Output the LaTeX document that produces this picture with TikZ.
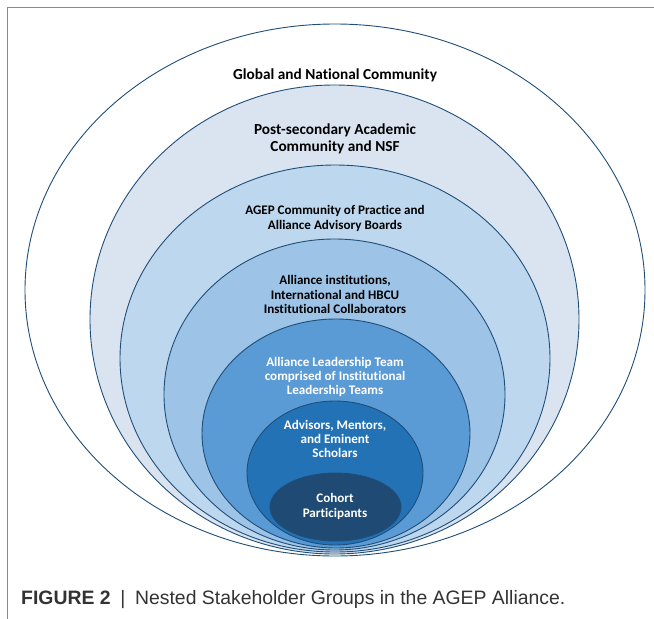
\documentclass[tikz,border=0pt]{standalone}
\usepackage{fontspec}
\setmainfont[Ligatures={NoCommon}]{Carlito}
\newfontfamily\capfont{Liberation Sans}
\definecolor{ringline}{HTML}{1F4E79}
\definecolor{fillA}{HTML}{DAE4F1}
\definecolor{fillB}{HTML}{BDD7EE}
\definecolor{fillC}{HTML}{9DC3E6}
\definecolor{fillD}{HTML}{5B9BD5}
\definecolor{fillE}{HTML}{2472B6}
\definecolor{fillF}{HTML}{1F4A73}
\definecolor{framegray}{HTML}{8A8A8A}
\definecolor{capgray}{HTML}{333333}
\begin{document}
\begin{tikzpicture}[x=1pt,y=-1pt,
  ring/.style={draw=ringline, line width=0.9pt},
  lbl/.style={font=\bfseries\fontsize{13.1}{14.4}\selectfont, align=center, inner sep=0pt},
  biglbl/.style={font=\bfseries\fontsize{15.3}{16.8}\selectfont, align=center, inner sep=0pt}]
\useasboundingbox (0,0) rectangle (654,619);
\fill[white] (0,0) rectangle (654,619);
\draw[framegray, line width=1pt] (7.5,619) -- (7.5,7.5) -- (654,7.5);
% nested ellipses
\path[ring, fill=white] (335,290) ellipse [x radius=310pt, y radius=266pt];
\path[ring, fill=fillA] (334.5,319.5) ellipse [x radius=244.5pt, y radius=234.5pt];
\path[ring, fill=fillB] (335,358.5) ellipse [x radius=215pt, y radius=193.5pt];
\path[ring, fill=fillC] (334.5,394.5) ellipse [x radius=170.5pt, y radius=155.5pt];
\path[ring, fill=fillD] (336,433.5) ellipse [x radius=134pt, y radius=114.5pt];
\path[ring, fill=fillE] (335,473) ellipse [x radius=88pt, y radius=72pt];
\path[ring, fill=fillF] (335.5,507) ellipse [x radius=65.5pt, y radius=34pt];
% labels
\node[biglbl] (global) at (335,75) {Global and National Community};
\node[biglbl] (post) at (335,138.5) {Post-secondary Academic\\Community and NSF};
\node[lbl] (agep) at (335,218.5) {AGEP Community of Practice and\\Alliance Advisory Boards};
\node[lbl] (inst) at (335,294.5) {Alliance institutions,\\International and HBCU\\Institutional Collaborators};
\node[lbl, text=white] (alt) at (335,377) {Alliance Leadership Team\\comprised of Institutional\\Leadership Teams};
\node[lbl, text=white] (adv) at (335,439) {Advisors, Mentors,\\and Eminent\\Scholars};
\node[lbl, text=white] (cohort) at (335,506.5) {Cohort\\Participants};
% caption
\node[anchor=base west, inner sep=0pt, text=capgray, font=\capfont\fontsize{19.4}{22}\selectfont] (cap) at (21,604) {\textbf{FIGURE 2}\enspace|\enspace Nested Stakeholder Groups in the AGEP Alliance.};
\end{tikzpicture}
\end{document}
